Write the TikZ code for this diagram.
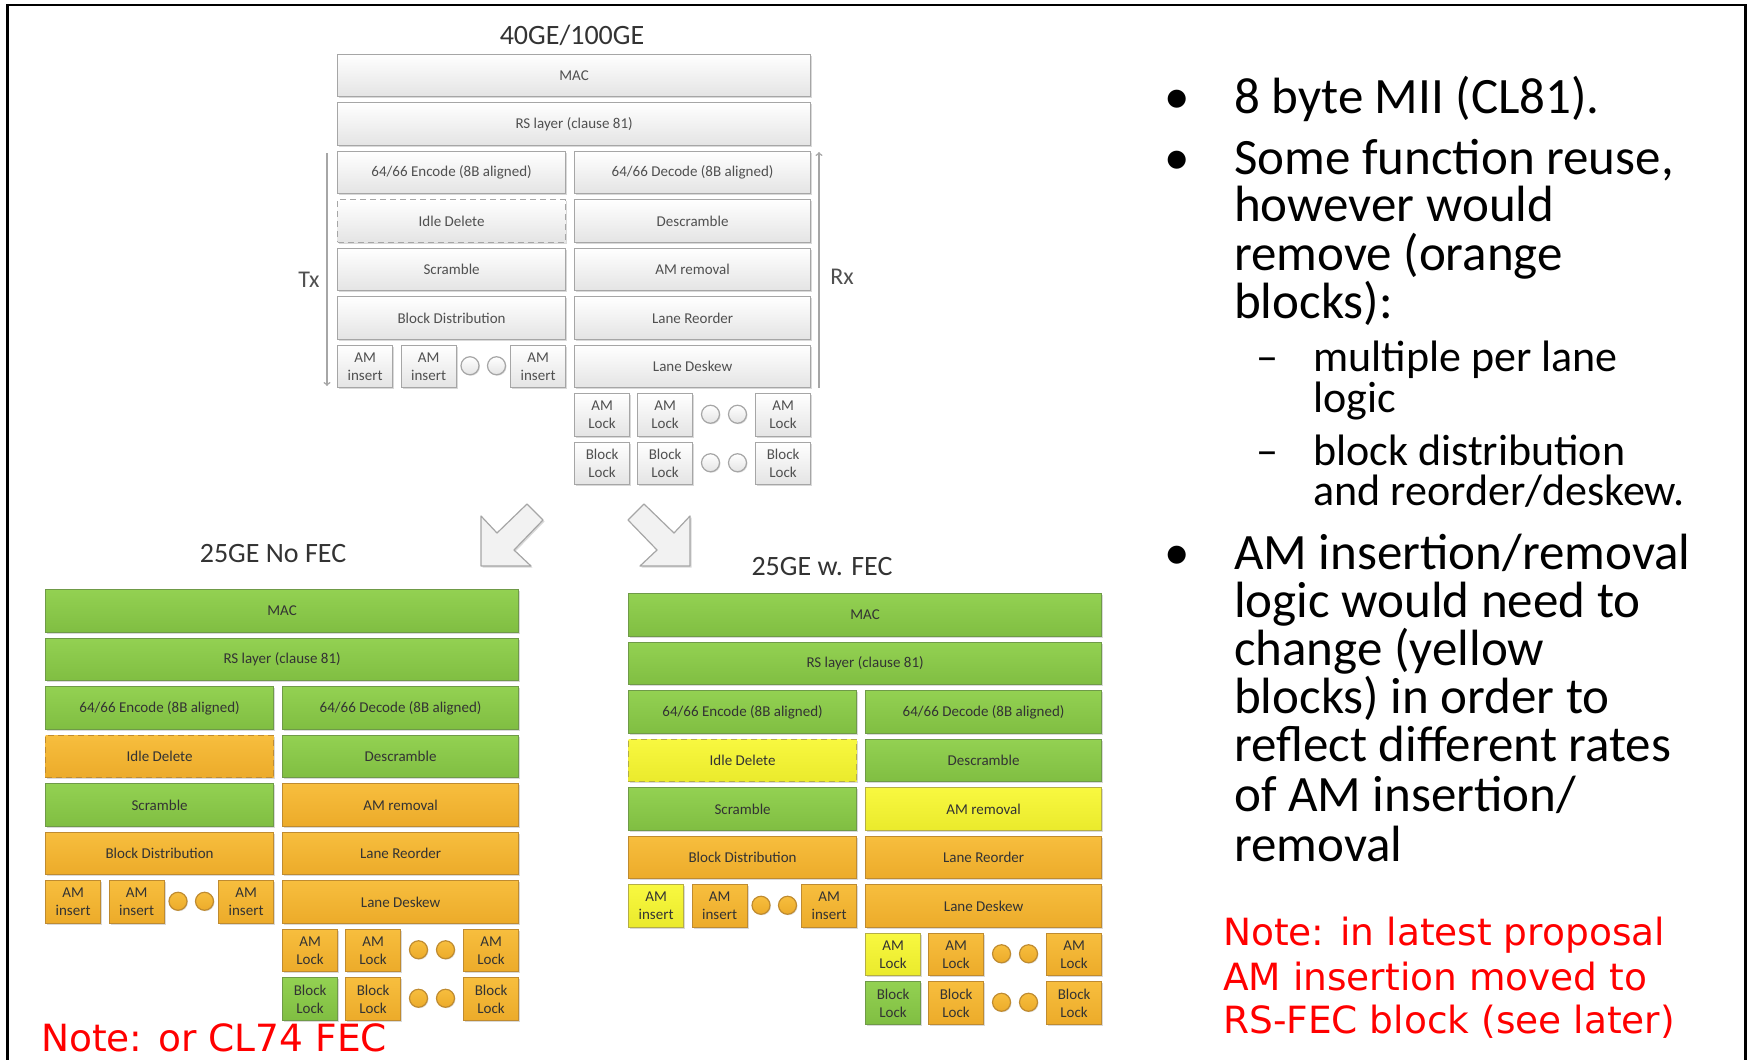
\documentclass[tikz,border=0pt]{standalone}
\usepackage{fontspec}
\setmainfont{Carlito}
\newfontfamily\notefont{DejaVu Sans}
\usetikzlibrary{shadows}

\definecolor{boxgray}{HTML}{E4E4E4}
\definecolor{edgegray}{HTML}{A6A6A6}
\definecolor{txtgray}{HTML}{505050}
\definecolor{txtdark}{HTML}{333333}
\definecolor{gnhi}{HTML}{93D152}
\definecolor{gnlo}{HTML}{80BE42}
\definecolor{gnedge}{HTML}{6F9A48}
\definecolor{oghi}{HTML}{F7BE3E}
\definecolor{oglo}{HTML}{ECAB2A}
\definecolor{ogedge}{HTML}{BF8B30}
\definecolor{ylhi}{HTML}{F8F840}
\definecolor{yllo}{HTML}{EAEA2C}
\definecolor{yledge}{HTML}{B5AE45}
\definecolor{notered}{HTML}{FF0000}
\definecolor{arrowfill}{HTML}{F2F2F2}

\tikzset{
  blk/.style={inner sep=0pt, anchor=north west, minimum height=42.5pt, line width=1.2pt,
    align=center, font=\fontsize{15}{18}\selectfont,
    drop shadow={opacity=0.3, shadow xshift=1.5pt, shadow yshift=-1.5pt}},
  gr/.style={top color=white, bottom color=boxgray, draw=edgegray, text=txtgray},
  gn/.style={top color=gnhi, bottom color=gnlo, draw=gnedge, text=txtdark},
  og/.style={top color=oghi, bottom color=oglo, draw=ogedge, text=txtdark},
  yl/.style={top color=ylhi, bottom color=yllo, draw=yledge, text=txtdark},
  idl/.style={dash pattern=on 6pt off 4pt},
  lanedot/.style={circle, minimum size=18pt, inner sep=0pt, line width=1.2pt,
    drop shadow={opacity=0.25, shadow xshift=1pt, shadow yshift=-1pt}},
  txrx/.style={draw=edgegray, line width=1.5pt, ->},
  ttl/.style={font=\fontsize{28}{30}\selectfont, text=black!80},
  lbl/.style={font=\fontsize{24}{26}\selectfont, text=txtgray},
  bultxt/.style={anchor=base west, inner sep=0pt, font=\fontsize{51}{48}\selectfont},
  subtxt/.style={anchor=base west, inner sep=0pt, font=\fontsize{44}{41}\selectfont},
  notetxt/.style={anchor=base west, inner sep=0pt, text=notered, font=\notefont\fontsize{37.5}{44}\selectfont},
  blockarrow/.style={fill=arrowfill, draw=edgegray, line width=1.2pt, line join=round,
    drop shadow={opacity=0.3, shadow xshift=1.5pt, shadow yshift=-1.5pt}}
}

% #1 prefix, #2 base, #3 idle, #4 am removal, #5 rest, #6 first insert, #7 first lock, #8 first block lock
\newcommand\layerstack[8]{%
  \node[blk,#2,minimum width=473pt] (#1-mac) at (0,0) {MAC};
  \node[blk,#2,minimum width=473pt] (#1-rs) at (0,48.5) {RS layer (clause 81)};
  \node[blk,#2,minimum width=228pt] (#1-enc) at (0,97) {64/66 Encode (8B aligned)};
  \node[blk,#2,minimum width=236pt] (#1-dec) at (237,97) {64/66 Decode (8B aligned)};
  \node[blk,#3,idl,minimum width=228pt] (#1-idle) at (0,145.5) {Idle Delete};
  \node[blk,#2,minimum width=236pt] (#1-desc) at (237,145.5) {Descramble};
  \node[blk,#2,minimum width=228pt] (#1-scr) at (0,194) {Scramble};
  \node[blk,#4,minimum width=236pt] (#1-amrem) at (237,194) {AM removal};
  \node[blk,#5,minimum width=228pt] (#1-bd) at (0,242.5) {Block Distribution};
  \node[blk,#5,minimum width=236pt] (#1-lr) at (237,242.5) {Lane Reorder};
  % per lane insert
  \node[blk,#6,minimum width=55pt] (#1-ins1) at (0,291) {AM\\insert};
  \node[blk,#5,minimum width=55pt] (#1-ins2) at (63.5,291) {AM\\insert};
  \node[lanedot,#5] (#1-idot1) at (133,312.25) {};
  \node[lanedot,#5] (#1-idot2) at (159.5,312.25) {};
  \node[blk,#5,minimum width=55pt] (#1-ins3) at (173,291) {AM\\insert};
  \node[blk,#5,minimum width=236pt] (#1-ld) at (237,291) {Lane Deskew};
  % per lane lock
  \node[blk,#7,minimum width=55pt] (#1-lock1) at (237,339.5) {AM\\Lock};
  \node[blk,#5,minimum width=55pt] (#1-lock2) at (300,339.5) {AM\\Lock};
  \node[lanedot,#5] (#1-ldot1) at (373.5,360.75) {};
  \node[lanedot,#5] (#1-ldot2) at (400.5,360.75) {};
  \node[blk,#5,minimum width=55pt] (#1-lock3) at (418,339.5) {AM\\Lock};
  \node[blk,#8,minimum width=55pt] (#1-bl1) at (237,388) {Block\\Lock};
  \node[blk,#5,minimum width=55pt] (#1-bl2) at (300,388) {Block\\Lock};
  \node[lanedot,#5] (#1-bdot1) at (373.5,409.25) {};
  \node[lanedot,#5] (#1-bdot2) at (400.5,409.25) {};
  \node[blk,#5,minimum width=55pt] (#1-bl3) at (418,388) {Block\\Lock};
}

\begin{document}
\begin{tikzpicture}[x=1pt, y=-1pt]
  \useasboundingbox (0,0) rectangle (1748,1060);
  \draw[line width=2.5pt] (7.5,1062) -- (7.5,5) -- (1745.5,5) -- (1745.5,1062);

  % 40GE/100GE
  \node[ttl] (ttl-top) at (572,35) {40GE/100GE};
  \begin{scope}[shift={(337,53.5)}]
    \layerstack{top}{gr}{gr}{gr}{gr}{gr}{gr}{gr}
  \end{scope}
  \coordinate (tx-a) at (327,153);
  \coordinate (tx-b) at (327,386);
  \coordinate (rx-a) at (819,388);
  \coordinate (rx-b) at (819,152);
  \draw[txrx] (tx-a) -- (tx-b);
  \draw[txrx] (rx-a) -- (rx-b);
  \node[lbl] (tx) at (309,280) {Tx};
  \node[lbl] (rx) at (842,277) {Rx};

  % the two hollow arrows
  \draw[blockarrow, shift={(481,566)}] (0,0) -- (0,-50) -- (16,-33) -- (46,-62)
    -- (62,-46) -- (33,-16) -- (50,0) -- cycle;
  \draw[blockarrow, shift={(690,566)}] (0,0) -- (0,-50) -- (-16,-33) -- (-46,-62)
    -- (-62,-46) -- (-33,-16) -- (-50,0) -- cycle;

  % 25GE No FEC
  \node[ttl] (ttl-nf) at (273,554) {25GE No FEC};
  \begin{scope}[shift={(45,589)}]
    \layerstack{nf}{gn}{og}{og}{og}{og}{og}{gn}
  \end{scope}

  % 25GE w. FEC
  \node[ttl] (ttl-wf) at (822,567) {25GE w. FEC};
  \begin{scope}[shift={(628,593)}]
    \layerstack{wf}{gn}{yl}{yl}{og}{yl}{yl}{gn}
  \end{scope}

  % bullets
  \node[bultxt] (dot-a) at (1164,113) {•};
  \node[bultxt] (mii) at (1234,113) {8 byte MII (CL81).};
  \node[bultxt] (dot-b) at (1164,174) {•};
  \foreach \y/\t [count=\i] in {174/{Some function reuse,}, 221/however would,
      270/remove (orange, 318/blocks):}
    \node[bultxt] (reuse-\i) at (1234,\y) {\t};
  \node[subtxt] (dash-a) at (1256,371) {–};
  \node[subtxt] (dash-b) at (1256,465) {–};
  \foreach \y/\t [count=\i] in {371/multiple per lane, 412/logic,
      465/block distribution, 505/{and reorder/deskew.}}
    \node[subtxt] (remove-\i) at (1313,\y) {\t};
  \node[bultxt] (dot-c) at (1164,569) {•};
  \foreach \y/\t [count=\i] in {569/{AM insertion/removal}, 617/logic would need to,
      665/change (yellow, 713/blocks) in order to, 761/reflect different rates,
      811/{of AM insertion/}, 861/removal}
    \node[bultxt] (change-\i) at (1234,\y) {\t};

  % notes
  \foreach \y/\t [count=\i] in {945/Note: in latest proposal, 990/AM insertion moved to,
      1033/RS-FEC block (see later)}
    \node[notetxt] (latest-\i) at (1223,\y) {\t};
  \node[notetxt] (cl74) at (41,1051) {Note: or CL74 FEC};
\end{tikzpicture}
\end{document}
